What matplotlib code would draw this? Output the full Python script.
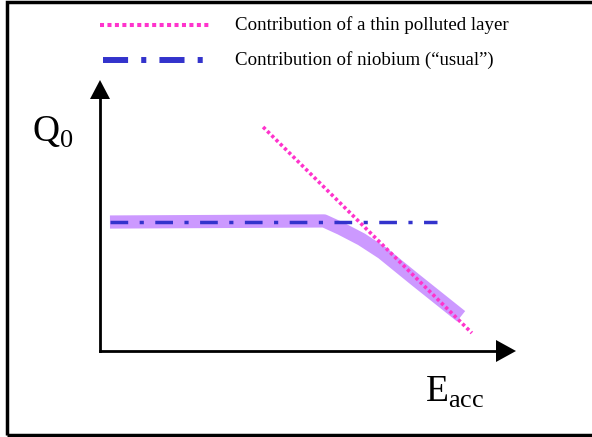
import matplotlib.pyplot as plt

plt.rcParams['font.family'] = ['Liberation Serif', 'DejaVu Serif']
plt.rcParams['mathtext.fontset'] = 'custom'
plt.rcParams['mathtext.rm'] = 'Liberation Serif'

# schematic values (arbitrary units, axes run 0..10)
nb_E = [0.24, 8.12]
nb_Q = [4.74, 4.74]

layer_E = [3.93, 8.96]
layer_Q = [8.26, 0.63]

total_E = [0.24, 5.4, 5.8, 6.3, 6.8, 7.6, 8.7]
total_Q = [4.74, 4.78, 4.5, 4.1, 3.6, 2.6, 1.25]

labels = ['Contribution of a thin polluted layer',
          'Contribution of niobium (\u201cusual\u201d)']

PINK = '#ff33cc'
BLUE = '#3333cc'
LILAC = '#cc99ff'

W, H = 592, 437
fig = plt.figure(figsize=(W / 100, H / 100), dpi=100)

# overlay in pixel units for the frame and legend
bg = fig.add_axes([0, 0, 1, 1])
bg.set_xlim(0, W)
bg.set_ylim(H, 0)
bg.axis('off')
bg.plot([7, 7, W + 5], [435, 1.5, 1.5], color='black', lw=2.5,
        solid_joinstyle='miter', solid_capstyle='butt')
bg.plot([7, W + 5], [435, 435], color='black', lw=2.5, solid_capstyle='butt')

# legend
bg.plot([100, 210], [25, 25], color=PINK, lw=2.9, dashes=(1, 0.85))
bg.plot([103, 210], [60, 60], color=BLUE, lw=4.3, dashes=(4.2, 2.2, 0.85, 2.2))
bg.text(235, 25, labels[0], fontsize=13.6, va='center', ha='left')
bg.text(235, 60, labels[1], fontsize=13.6, va='center', ha='left')

# data axes
x0, y0, x1, y1 = 100, 350, 515, 80
ax = fig.add_axes([x0 / W, 1 - y0 / H, (x1 - x0) / W, (y0 - y1) / H])
ax.set_xlim(0, 10)
ax.set_ylim(0, 10)
ax.axis('off')

ax.plot(total_E, total_Q, color=LILAC, lw=9.5, solid_capstyle='butt',
        solid_joinstyle='round')
ax.plot(nb_E, nb_Q, color=BLUE, lw=2.5, dashes=(5.1, 3.3, 1.2, 3.3))
ax.plot(layer_E, layer_Q, color=PINK, lw=2.6, dashes=(0.9, 0.75))

# axis arrows
bg.plot([100, 100], [351, 98], color='black', lw=2)
bg.plot([100, 497], [351, 351], color='black', lw=2)
bg.fill([90, 110, 100], [99, 99, 80], color='black', lw=0)
bg.fill([496, 496, 516], [340, 362, 351], color='black', lw=0)

bg.text(32, 132, r'$\mathrm{Q}_{0}$', fontsize=27, va='center', ha='left')
bg.text(425, 392, r'$\mathrm{E}_{\mathrm{acc}}$', fontsize=27, va='center', ha='left')

fig.savefig('out.png', dpi=100)
